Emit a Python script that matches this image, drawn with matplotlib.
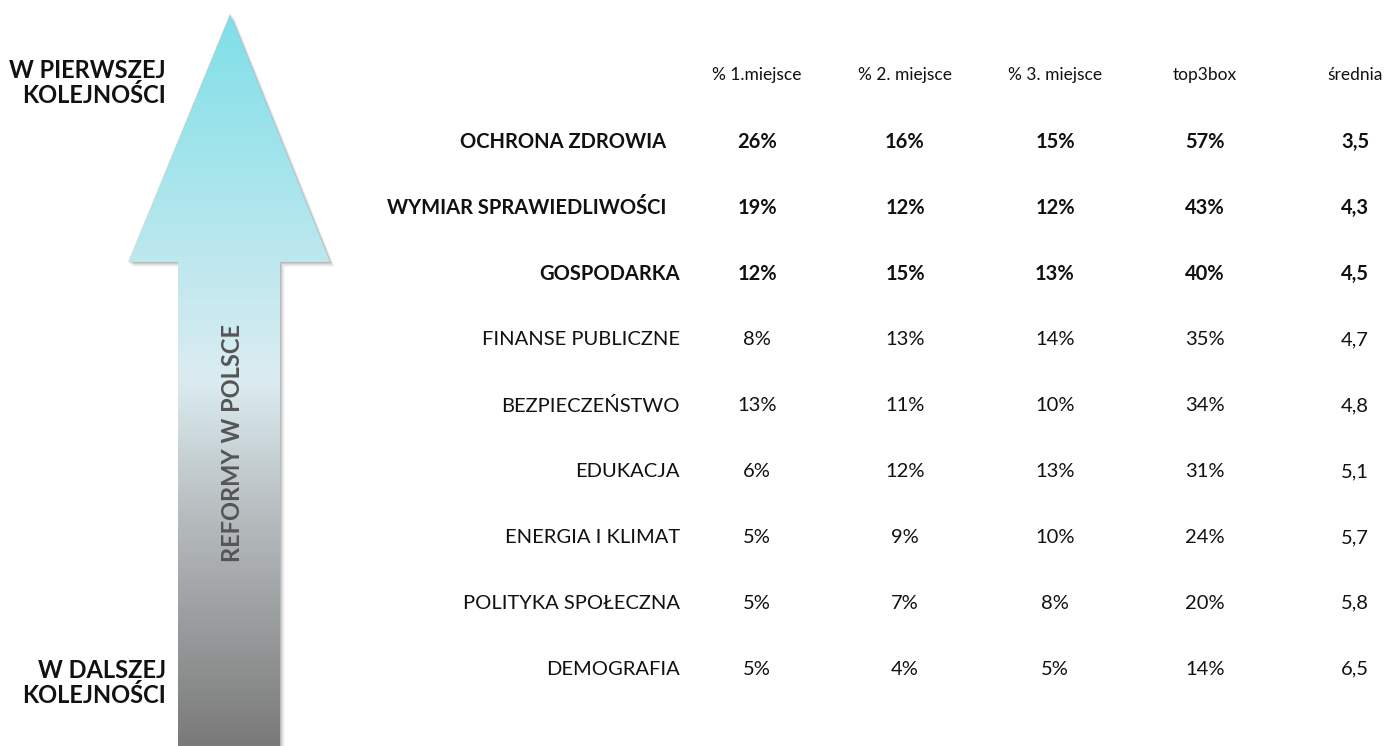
import matplotlib
matplotlib.use("Agg")
import matplotlib.pyplot as plt
import numpy as np
from matplotlib.patches import Polygon
from matplotlib.colors import LinearSegmentedColormap

plt.rcParams["font.family"] = ["Lato", "DejaVu Sans"]

categories = ["OCHRONA ZDROWIA", "WYMIAR SPRAWIEDLIWOŚCI", "GOSPODARKA",
              "FINANSE PUBLICZNE", "BEZPIECZEŃSTWO", "EDUKACJA",
              "ENERGIA I KLIMAT", "POLITYKA SPOŁECZNA", "DEMOGRAFIA"]
first_place = [26, 19, 12, 8, 13, 6, 5, 5, 5]
second_place = [16, 12, 15, 13, 11, 12, 9, 7, 4]
third_place = [15, 12, 13, 14, 10, 13, 10, 8, 5]
top3box = [57, 43, 40, 35, 34, 31, 24, 20, 14]
mean_rank = [3.5, 4.3, 4.5, 4.7, 4.8, 5.1, 5.7, 5.8, 6.5]
headers = ["% 1.miejsce", "% 2. miejsce", "% 3. miejsce", "top3box", "średnia"]
n_bold = 3

W, H = 1387, 746
fig = plt.figure(figsize=(W / 100, H / 100), dpi=100)
ax = fig.add_axes([0, 0, 1, 1])
ax.set_xlim(0, W)
ax.set_ylim(H, 0)
ax.axis("off")

# arrow shape (pixel coords)
arrow = [(230, 14), (330, 262), (280, 262), (280, 760), (178, 760), (178, 262), (128, 262)]

# soft shadow
for k, a in zip(range(1, 6), [0.10, 0.08, 0.06, 0.04, 0.03]):
    ax.add_patch(Polygon([(x + k, y + k) for x, y in arrow], closed=True,
                         facecolor="#000000", edgecolor="none", alpha=a, zorder=1))

cmap = LinearSegmentedColormap.from_list(
    "arr", [(0.0, "#7fdfe8"), (0.5, "#dbecf1"), (0.7, "#b4b9bb"), (1.0, "#7a7a7a")])
grad = np.linspace(0, 1, 400).reshape(-1, 1)
img = ax.imshow(grad, cmap=cmap, extent=[120, 340, 746, 14], aspect="auto", zorder=2)
clip = Polygon(arrow, closed=True, facecolor="none", edgecolor="none", transform=ax.transData)
ax.add_patch(clip)
img.set_clip_path(clip)

ax.text(232, 443, "REFORMY W POLSCE", rotation=90, ha="center", va="center",
        fontsize=17, fontweight="bold", color="#555555", zorder=3)

ax.text(166, 83, "W PIERWSZEJ\nKOLEJNOŚCI", ha="right", va="center", fontsize=17,
        fontweight="bold", color="#111111", linespacing=1.1)
ax.text(166, 683, "W DALSZEJ\nKOLEJNOŚCI", ha="right", va="center", fontsize=17,
        fontweight="bold", color="#111111", linespacing=1.1)

col_x = [757, 905, 1055, 1205, 1355]
row_y0, row_dy = 142, 65.9
for x, h in zip(col_x, headers):
    ax.text(x, 75, h, ha="center", va="center", fontsize=12.5, color="#111111")

for i, cat in enumerate(categories):
    y = row_y0 + i * row_dy
    fw = "bold" if i < n_bold else "normal"
    vals = [f"{first_place[i]}%", f"{second_place[i]}%", f"{third_place[i]}%",
            f"{top3box[i]}%", f"{mean_rank[i]:.1f}".replace(".", ",")]
    lx = 666 if i < 2 else 680
    ax.text(lx, y, cat, ha="right", va="center", fontsize=14.5, fontweight=fw, color="#111111")
    for x, v in zip(col_x, vals):
        ax.text(x, y, v, ha="center", va="center", fontsize=14.5, fontweight=fw, color="#111111")

fig.savefig("out.png", dpi=100)
